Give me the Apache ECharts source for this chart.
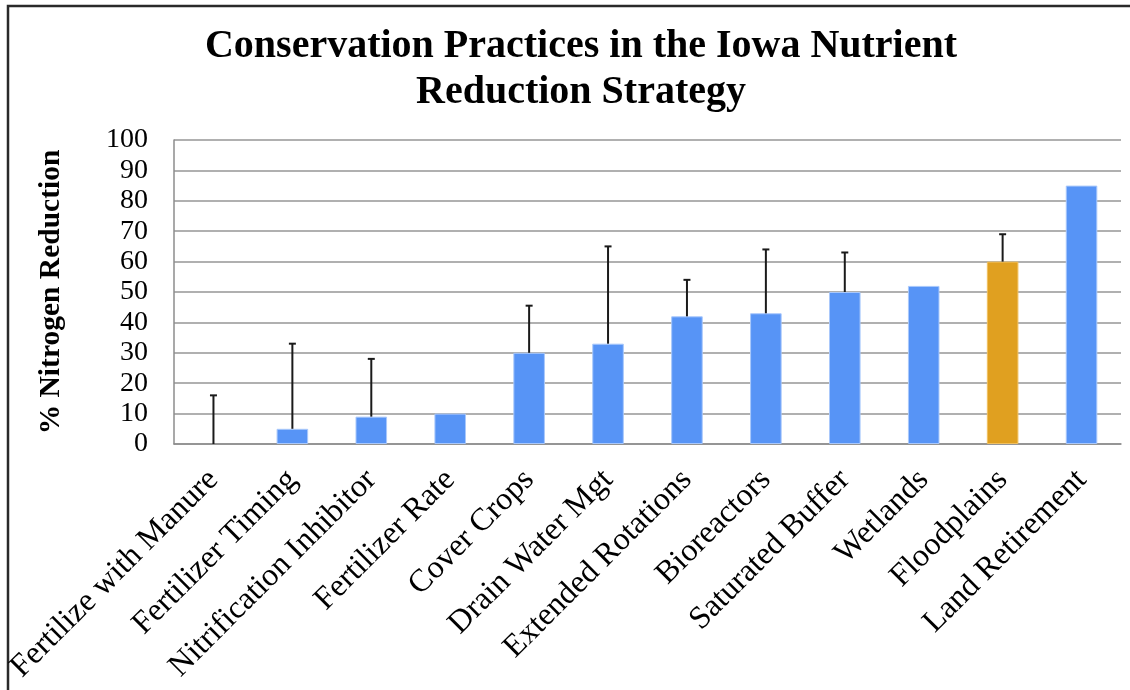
<!DOCTYPE html>
<html>
<head>
<meta charset="utf-8">
<script src="https://cdn.jsdelivr.net/npm/echarts@6/dist/echarts.min.js"></script>
<style>html,body{margin:0;padding:0;background:#fff;}#c{width:1130px;height:690px;}</style>
</head>
<body>
<div id="c"></div>
<script>
const categories = ["Fertilize with Manure","Fertilizer Timing","Nitrification Inhibitor","Fertilizer Rate","Cover Crops","Drain Water Mgt","Extended Rotations","Bioreactors","Saturated Buffer","Wetlands","Floodplains","Land Retirement"];
const reduction = [0, 5, 9, 10, 30, 33, 42, 43, 50, 52, 60, 85];
const errorTop = [16, 33, 28, null, 45.5, 65, 54, 64, 63, null, 69, null];
const highlighted = ["Floodplains"];
const yTicks = [0,10,20,30,40,50,60,70,80,90,100];

const SERIF = '"Liberation Serif", "DejaVu Serif", serif';
const BLUE = '#5794f6';
const ORANGE = '#e0a020';

const chart = echarts.init(document.getElementById('c'), null, {renderer: 'canvas'});
const option = {
  animation: false,
  backgroundColor: '#fff',
  title: {
    text: 'Conservation Practices in the Iowa Nutrient\nReduction Strategy',
    left: 576,
    textAlign: 'center',
    top: 19,
    textStyle: {fontFamily: SERIF, fontWeight: 'bold', fontSize: 40, lineHeight: 46, color: '#000'}
  },
  graphic: [{
    type: 'rect', shape: {x: 8, y: 6, width: 1300, height: 900},
    style: {fill: 'none', stroke: '#2a2a2a', lineWidth: 2.5}, silent: true
  }],
  grid: {left: 174, right: 9, top: 140, bottom: 246, containLabel: false},
  xAxis: {
    type: 'category',
    data: categories,
    axisLine: {show: true, lineStyle: {color: '#8c8c8c', width: 1.5}},
    axisTick: {show: false},
    axisLabel: {rotate: 45, interval: 0, margin: 31, fontFamily: SERIF, fontSize: 32, color: '#000'}
  },
  yAxis: {
    type: 'value', min: yTicks[0], max: yTicks[yTicks.length - 1], interval: 10,
    name: '% Nitrogen Reduction', nameLocation: 'middle', nameGap: 108, nameRotate: 90,
    nameTextStyle: {fontFamily: SERIF, fontWeight: 'bold', fontSize: 29.5, color: '#000'},
    axisLine: {show: true, lineStyle: {color: '#8c8c8c', width: 1.5}},
    axisTick: {show: false},
    splitLine: {show: true, lineStyle: {color: '#969696', width: 1.5}},
    axisLabel: {fontFamily: SERIF, fontSize: 28, color: '#000', margin: 26}
  },
  series: [{
    type: 'bar',
    barWidth: '40%',
    data: reduction.map((v, i) => ({
      value: v,
      itemStyle: {
        color: highlighted.includes(categories[i]) ? ORANGE : BLUE,
        borderColor: highlighted.includes(categories[i]) ? '#f0c060' : '#a9c8fb',
        borderWidth: v > 0 ? 1 : 0
      }
    }))
  }, {
    type: 'custom',
    z: 5,
    data: reduction.map((v, i) => [i, v, errorTop[i]]),
    renderItem: function (params, api) {
      const hi = api.value(2);
      if (hi === null || hi === undefined || isNaN(hi)) return null;
      const p0 = api.coord([api.value(0), api.value(1)]);
      const p1 = api.coord([api.value(0), hi]);
      const cap = 3.5;
      return {
        type: 'group',
        children: [
          {type: 'line', shape: {x1: p0[0], y1: p0[1], x2: p1[0], y2: p1[1]}, style: {stroke: '#1a1a1a', lineWidth: 2}},
          {type: 'line', shape: {x1: p1[0] - cap, y1: p1[1], x2: p1[0] + cap, y2: p1[1]}, style: {stroke: '#1a1a1a', lineWidth: 2}}
        ]
      };
    }
  }]
};
chart.setOption(option);
</script>
</body>
</html>
